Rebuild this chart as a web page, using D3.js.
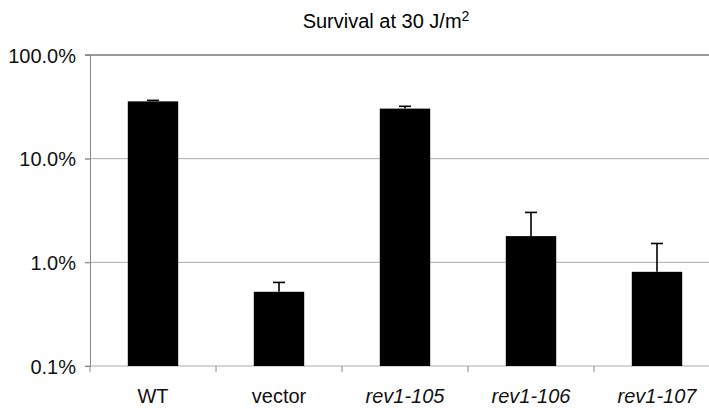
<!DOCTYPE html>
<html>
<head>
<meta charset="utf-8">
<script src="https://cdn.jsdelivr.net/npm/d3@7"></script>
<style>
  body { margin: 0; background: #fff; }
  text { font-family: "Liberation Sans", Arial, sans-serif; }
</style>
</head>
<body>
<svg id="chart" width="709" height="409"></svg>
<script>
var categories = ["WT", "vector", "rev1-105", "rev1-106", "rev1-107"];
var italicCats = [false, false, true, true, true];
var survival = [0.357, 0.0052, 0.304, 0.0179, 0.0081];   // fraction
var errorTop = [0.365, 0.0064, 0.320, 0.0303, 0.0152];
var yTicks = [0.001, 0.01, 0.1, 1];

var svg = d3.select("#chart");
var margin = {left: 90, top: 55, bottom: 43};
var width = 630;
var height = 409 - margin.top - margin.bottom;

var x = d3.scaleBand().domain(categories).range([margin.left, margin.left + width]).paddingInner(0.6).paddingOuter(0.3);
var y = d3.scaleLog().domain([0.001, 1]).range([margin.top + height, margin.top]);

svg.append("text")
  .attr("x", 386).attr("y", 28)
  .attr("text-anchor", "middle")
  .style("font-size", "20px")
  .html("Survival at 30 J/m<tspan dy='-7' style='font-size:14px'>2</tspan>");

// gridlines
svg.append("g").selectAll("line")
  .data(yTicks)
  .enter().append("line")
  .attr("x1", margin.left - 5).attr("x2", 709)
  .attr("y1", d => y(d)).attr("y2", d => y(d))
  .attr("stroke", function(d) { return d == 1 ? "#999" : "#aaa"; })
  .attr("stroke-width", function(d) { return d == 1 ? 2 : 1; });

// y axis
var yAxis = svg.append("g")
  .attr("transform", "translate(" + margin.left + ",0)")
  .call(d3.axisLeft(y).tickValues(yTicks).tickFormat(d3.format(".1%")).tickSize(5).tickPadding(9));
yAxis.select(".domain").attr("stroke", "#888");
yAxis.selectAll(".tick line").attr("stroke", "#888");
yAxis.selectAll("text").style("font-size", "20px").attr("fill", "#111").attr("dy", "0.36em");

// category ticks at bar boundaries
var step = x.step();
var bounds = d3.range(categories.length + 1).map(i => margin.left + i * step);
svg.append("g").selectAll("line")
  .data(bounds)
  .enter().append("line")
  .attr("x1", d => d).attr("x2", d => d)
  .attr("y1", y(0.001)).attr("y2", y(0.001) + 6)
  .attr("stroke", "#888");

// bars
svg.append("g").selectAll("rect")
  .data(categories)
  .enter().append("rect")
  .attr("x", d => x(d))
  .attr("width", x.bandwidth())
  .attr("y", (d, i) => y(survival[i]))
  .attr("height", (d, i) => y(0.001) - y(survival[i]))
  .attr("fill", "#000");

// error bars
var eb = svg.append("g").attr("stroke", "#000").attr("stroke-width", 1.6);
categories.forEach(function(c, i) {
  var cx = x(c) + x.bandwidth() / 2;
  eb.append("line").attr("x1", cx).attr("x2", cx).attr("y1", y(survival[i])).attr("y2", y(errorTop[i]));
  eb.append("line").attr("x1", cx - 6).attr("x2", cx + 6).attr("y1", y(errorTop[i])).attr("y2", y(errorTop[i]));
});

// category labels
svg.append("g").selectAll("text")
  .data(categories)
  .enter().append("text")
  .attr("x", d => x(d) + x.bandwidth() / 2)
  .attr("y", 403)
  .attr("text-anchor", "middle")
  .style("font-size", "20px")
  .style("font-style", (d, i) => italicCats[i] ? "italic" : "normal")
  .attr("fill", "#111")
  .text(d => d);
</script>
</body>
</html>
